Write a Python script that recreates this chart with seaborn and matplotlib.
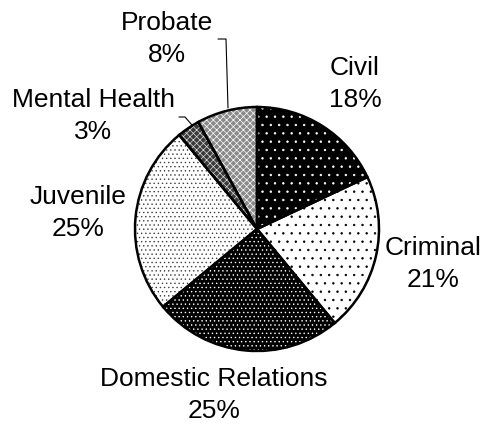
import numpy as np
import matplotlib
matplotlib.use("Agg")
import matplotlib.pyplot as plt
import seaborn as sns

# case type shares (percent), clockwise from 12 o'clock
categories = ["Civil", "Criminal", "Domestic Relations", "Juvenile", "Mental Health", "Probate"]
shares = [18, 21, 25, 25, 3, 8]

# fill pattern per slice: face colour, hatch, dot colour
faces = ["black", "white", "black", "white", "#3a3a3a", "#8a8a8a"]
hatches = ["..", "..", "....", "....", "xxxxx", "xxxxx"]
dots = ["white", "black", "white", "#404040", "#d8d8d8", "white"]

sns.set_style("white")
plt.rcParams["font.family"] = ["Liberation Sans", "DejaVu Sans"]
plt.rcParams["hatch.linewidth"] = 0.5

fig = plt.figure(figsize=(4.86, 4.26), dpi=100)
ax = fig.add_axes([0, 0, 1, 1])

# pixel-like data space: x 0..486, y 0..426 (y up)
cx, cy, r = 257, 426 - 229, 122

wedges, _ = ax.pie(shares, startangle=90, counterclock=False,
                   center=(cx, cy), radius=r, frame=True)
for w, fc, h, dc in zip(wedges, faces, hatches, dots):
    w.set_facecolor(fc)
    w.set_hatch(h)
    w.set_edgecolor(dc)
    w.set_linewidth(0)

# black outlines on top
outl, _ = ax.pie(shares, startangle=90, counterclock=False,
                 center=(cx, cy), radius=r, frame=True,
                 wedgeprops=dict(facecolor="none", edgecolor="black", linewidth=1.8))

# label positions (pixel coords of label block centre)
label_xy = [(355, 84), (433, 264), (214, 395), (78, 213), (93, 116), (167, 39)]
for name, pct, (lx, ly) in zip(categories, shares, label_xy):
    ax.text(lx, 426 - ly, f"{name}\n{pct}%", ha="center", va="center",
            fontsize=19, linespacing=1.45, color="black")

# leader lines for the two small slices
ax.plot([218, 226, 228], [426 - 39, 426 - 39, 426 - 108], color="black", lw=0.8)
ax.plot([179, 185, 192], [426 - 117, 426 - 117, 426 - 125], color="black", lw=0.8)

ax.set_xlim(0, 486)
ax.set_ylim(0, 426)
ax.set_aspect("auto")
ax.axis("off")

fig.savefig("out.png", dpi=100)
